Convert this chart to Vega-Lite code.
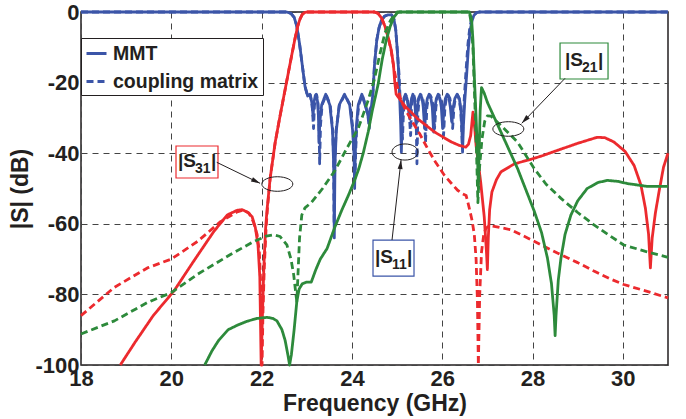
{
"$schema":"https://vega.github.io/schema/vega-lite/v6.json",
"width":587,"height":353,
"autosize":{"type":"none"},
"padding":{"left":81,"top":12,"right":18,"bottom":54},
"config":{"font":"Liberation Sans","view":{"stroke":"#231f20","strokeWidth":1.5}},
"encoding":{
"x":{"field":"f","type":"quantitative","scale":{"domain":[18,31],"nice":false,"zero":false},
"axis":{"values":[18,20,22,24,26,28,30],"title":"Frequency (GHz)","grid":true,"gridDash":[6,5],"gridColor":"#444","gridWidth":1,"domain":false,"ticks":false,"labelFont":"Liberation Sans","labelFontWeight":"bold","labelFontSize":22,"labelColor":"#231f20","labelPadding":3,"labelFlush":false,"labelOverlap":false,"titleFont":"Liberation Sans","titleFontWeight":"bold","titleFontSize":23,"titleColor":"#231f20","titlePadding":3}},
"y":{"field":"d","type":"quantitative","scale":{"domain":[-100,0],"nice":false,"zero":false},
"axis":{"values":[-100,-80,-60,-40,-20,0],"labelExpr":"datum.value == 0 ? '0' : '-' + abs(datum.value)","title":"|S| (dB)","grid":true,"gridDash":[6,5],"gridColor":"#444","gridWidth":1,"domain":false,"ticks":false,"labelFont":"Liberation Sans","labelFontWeight":"bold","labelFontSize":22,"labelColor":"#231f20","labelPadding":2,"labelFlush":false,"labelOverlap":false,"titleFont":"Liberation Sans","titleFontWeight":"bold","titleFontSize":23,"titleColor":"#231f20","titlePadding":2}}
},
"layer":[
{"data":{"values":[
{"p":"S11","m":"MMT","f":18,"d":0},{"p":"S11","m":"MMT","f":22.55,"d":0},{"p":"S11","m":"MMT","f":22.65,"d":-0.4},{"p":"S11","m":"MMT","f":22.72,"d":-1.5},{"p":"S11","m":"MMT","f":22.78,"d":-4},{"p":"S11","m":"MMT","f":22.84,"d":-9},{"p":"S11","m":"MMT","f":22.9,"d":-15},{"p":"S11","m":"MMT","f":22.96,"d":-21},{"p":"S11","m":"MMT","f":23.02,"d":-23.8},{"p":"S11","m":"MMT","f":23.07,"d":-23.3},{"p":"S11","m":"MMT","f":23.11,"d":-25.5},{"p":"S11","m":"MMT","f":23.14,"d":-29.4},{"p":"S11","m":"MMT","f":23.16,"d":-25.5},{"p":"S11","m":"MMT","f":23.19,"d":-23.6},{"p":"S11","m":"MMT","f":23.21,"d":-23.3},{"p":"S11","m":"MMT","f":23.24,"d":-25.5},{"p":"S11","m":"MMT","f":23.26,"d":-30},{"p":"S11","m":"MMT","f":23.27,"d":-37},{"p":"S11","m":"MMT","f":23.29,"d":-31},{"p":"S11","m":"MMT","f":23.33,"d":-26.3},{"p":"S11","m":"MMT","f":23.42,"d":-23.3},{"p":"S11","m":"MMT","f":23.51,"d":-26.3},{"p":"S11","m":"MMT","f":23.57,"d":-33.5},{"p":"S11","m":"MMT","f":23.595,"d":-43},{"p":"S11","m":"MMT","f":23.61,"d":-64},{"p":"S11","m":"MMT","f":23.625,"d":-43},{"p":"S11","m":"MMT","f":23.655,"d":-33.5},{"p":"S11","m":"MMT","f":23.72,"d":-26.3},{"p":"S11","m":"MMT","f":23.835,"d":-23.3},{"p":"S11","m":"MMT","f":23.95,"d":-26.3},{"p":"S11","m":"MMT","f":24.015,"d":-33.5},{"p":"S11","m":"MMT","f":24.045,"d":-40},{"p":"S11","m":"MMT","f":24.06,"d":-50},{"p":"S11","m":"MMT","f":24.075,"d":-40},{"p":"S11","m":"MMT","f":24.095,"d":-33},{"p":"S11","m":"MMT","f":24.14,"d":-26.3},{"p":"S11","m":"MMT","f":24.22,"d":-23.3},{"p":"S11","m":"MMT","f":24.29,"d":-26.3},{"p":"S11","m":"MMT","f":24.34,"d":-28.5},{"p":"S11","m":"MMT","f":24.37,"d":-30.3},{"p":"S11","m":"MMT","f":24.4,"d":-27.5},{"p":"S11","m":"MMT","f":24.44,"d":-26.5},{"p":"S11","m":"MMT","f":24.47,"d":-22},{"p":"S11","m":"MMT","f":24.5,"d":-15},{"p":"S11","m":"MMT","f":24.55,"d":-8},{"p":"S11","m":"MMT","f":24.6,"d":-4.5},{"p":"S11","m":"MMT","f":24.65,"d":-2.5},{"p":"S11","m":"MMT","f":24.72,"d":-1.2},{"p":"S11","m":"MMT","f":24.8,"d":-0.8},{"p":"S11","m":"MMT","f":24.88,"d":-0.8},{"p":"S11","m":"MMT","f":24.93,"d":-2},{"p":"S11","m":"MMT","f":24.97,"d":-5},{"p":"S11","m":"MMT","f":25.0,"d":-10},{"p":"S11","m":"MMT","f":25.03,"d":-16},{"p":"S11","m":"MMT","f":25.06,"d":-25},{"p":"S11","m":"MMT","f":25.08,"d":-32},{"p":"S11","m":"MMT","f":25.095,"d":-39.7},{"p":"S11","m":"MMT","f":25.11,"d":-32},{"p":"S11","m":"MMT","f":25.13,"d":-26.5},{"p":"S11","m":"MMT","f":25.155,"d":-24.3},{"p":"S11","m":"MMT","f":25.185,"d":-23.3},{"p":"S11","m":"MMT","f":25.22,"d":-24.5},{"p":"S11","m":"MMT","f":25.25,"d":-27},{"p":"S11","m":"MMT","f":25.28,"d":-30.3},{"p":"S11","m":"MMT","f":25.3,"d":-27},{"p":"S11","m":"MMT","f":25.32,"d":-24.5},{"p":"S11","m":"MMT","f":25.35,"d":-23.3},{"p":"S11","m":"MMT","f":25.38,"d":-24.5},{"p":"S11","m":"MMT","f":25.4,"d":-27},{"p":"S11","m":"MMT","f":25.42,"d":-32},{"p":"S11","m":"MMT","f":25.45,"d":-27},{"p":"S11","m":"MMT","f":25.475,"d":-24.5},{"p":"S11","m":"MMT","f":25.515,"d":-23.3},{"p":"S11","m":"MMT","f":25.555,"d":-24.5},{"p":"S11","m":"MMT","f":25.58,"d":-27},{"p":"S11","m":"MMT","f":25.61,"d":-33},{"p":"S11","m":"MMT","f":25.64,"d":-27},{"p":"S11","m":"MMT","f":25.67,"d":-24.5},{"p":"S11","m":"MMT","f":25.71,"d":-23.3},{"p":"S11","m":"MMT","f":25.75,"d":-24.5},{"p":"S11","m":"MMT","f":25.78,"d":-27},{"p":"S11","m":"MMT","f":25.81,"d":-34},{"p":"S11","m":"MMT","f":25.84,"d":-27},{"p":"S11","m":"MMT","f":25.87,"d":-24.5},{"p":"S11","m":"MMT","f":25.91,"d":-23.3},{"p":"S11","m":"MMT","f":25.95,"d":-24.5},{"p":"S11","m":"MMT","f":25.98,"d":-27},{"p":"S11","m":"MMT","f":26.01,"d":-33},{"p":"S11","m":"MMT","f":26.04,"d":-27},{"p":"S11","m":"MMT","f":26.07,"d":-24.5},{"p":"S11","m":"MMT","f":26.11,"d":-23.3},{"p":"S11","m":"MMT","f":26.15,"d":-24.5},{"p":"S11","m":"MMT","f":26.18,"d":-27},{"p":"S11","m":"MMT","f":26.21,"d":-31},{"p":"S11","m":"MMT","f":26.245,"d":-27},{"p":"S11","m":"MMT","f":26.28,"d":-24.5},{"p":"S11","m":"MMT","f":26.33,"d":-23.3},{"p":"S11","m":"MMT","f":26.38,"d":-24.5},{"p":"S11","m":"MMT","f":26.415,"d":-28},{"p":"S11","m":"MMT","f":26.435,"d":-33},{"p":"S11","m":"MMT","f":26.45,"d":-39.7},{"p":"S11","m":"MMT","f":26.47,"d":-32},{"p":"S11","m":"MMT","f":26.5,"d":-25},{"p":"S11","m":"MMT","f":26.54,"d":-18},{"p":"S11","m":"MMT","f":26.58,"d":-10},{"p":"S11","m":"MMT","f":26.62,"d":-5},{"p":"S11","m":"MMT","f":26.66,"d":-2.5},{"p":"S11","m":"MMT","f":26.7,"d":-1},{"p":"S11","m":"MMT","f":26.76,"d":-0.2},{"p":"S11","m":"MMT","f":26.82,"d":0},{"p":"S11","m":"MMT","f":31,"d":0},

{"p":"S11","m":"coupling matrix","f":18,"d":0},{"p":"S11","m":"coupling matrix","f":22.55,"d":0},{"p":"S11","m":"coupling matrix","f":22.65,"d":-0.4},{"p":"S11","m":"coupling matrix","f":22.72,"d":-1.5},{"p":"S11","m":"coupling matrix","f":22.78,"d":-4},{"p":"S11","m":"coupling matrix","f":22.84,"d":-9},{"p":"S11","m":"coupling matrix","f":22.9,"d":-15},{"p":"S11","m":"coupling matrix","f":22.96,"d":-21},{"p":"S11","m":"coupling matrix","f":23.02,"d":-24},{"p":"S11","m":"coupling matrix","f":23.08,"d":-23.5},{"p":"S11","m":"coupling matrix","f":23.12,"d":-26.5},{"p":"S11","m":"coupling matrix","f":23.15,"d":-33},{"p":"S11","m":"coupling matrix","f":23.17,"d":-26.5},{"p":"S11","m":"coupling matrix","f":23.2,"d":-23.8},{"p":"S11","m":"coupling matrix","f":23.22,"d":-23.5},{"p":"S11","m":"coupling matrix","f":23.25,"d":-26},{"p":"S11","m":"coupling matrix","f":23.27,"d":-31},{"p":"S11","m":"coupling matrix","f":23.285,"d":-43},{"p":"S11","m":"coupling matrix","f":23.305,"d":-32},{"p":"S11","m":"coupling matrix","f":23.34,"d":-26.3},{"p":"S11","m":"coupling matrix","f":23.43,"d":-23.5},{"p":"S11","m":"coupling matrix","f":23.52,"d":-26.3},{"p":"S11","m":"coupling matrix","f":23.575,"d":-33.5},{"p":"S11","m":"coupling matrix","f":23.595,"d":-42},{"p":"S11","m":"coupling matrix","f":23.605,"d":-60},{"p":"S11","m":"coupling matrix","f":23.62,"d":-43},{"p":"S11","m":"coupling matrix","f":23.65,"d":-33.5},{"p":"S11","m":"coupling matrix","f":23.72,"d":-26.5},{"p":"S11","m":"coupling matrix","f":23.84,"d":-23.5},{"p":"S11","m":"coupling matrix","f":23.96,"d":-26.3},{"p":"S11","m":"coupling matrix","f":24.025,"d":-33.5},{"p":"S11","m":"coupling matrix","f":24.055,"d":-40},{"p":"S11","m":"coupling matrix","f":24.07,"d":-47},{"p":"S11","m":"coupling matrix","f":24.085,"d":-39},{"p":"S11","m":"coupling matrix","f":24.105,"d":-33},{"p":"S11","m":"coupling matrix","f":24.15,"d":-26.3},{"p":"S11","m":"coupling matrix","f":24.23,"d":-23.5},{"p":"S11","m":"coupling matrix","f":24.3,"d":-26.3},{"p":"S11","m":"coupling matrix","f":24.35,"d":-29},{"p":"S11","m":"coupling matrix","f":24.385,"d":-33},{"p":"S11","m":"coupling matrix","f":24.41,"d":-28},{"p":"S11","m":"coupling matrix","f":24.44,"d":-26.5},{"p":"S11","m":"coupling matrix","f":24.47,"d":-22},{"p":"S11","m":"coupling matrix","f":24.5,"d":-15},{"p":"S11","m":"coupling matrix","f":24.55,"d":-8},{"p":"S11","m":"coupling matrix","f":24.6,"d":-4.5},{"p":"S11","m":"coupling matrix","f":24.65,"d":-2.5},{"p":"S11","m":"coupling matrix","f":24.72,"d":-1.2},{"p":"S11","m":"coupling matrix","f":24.8,"d":-0.8},{"p":"S11","m":"coupling matrix","f":24.88,"d":-0.8},{"p":"S11","m":"coupling matrix","f":24.93,"d":-2},{"p":"S11","m":"coupling matrix","f":24.97,"d":-5},{"p":"S11","m":"coupling matrix","f":25.0,"d":-10},{"p":"S11","m":"coupling matrix","f":25.04,"d":-17},{"p":"S11","m":"coupling matrix","f":25.07,"d":-25},{"p":"S11","m":"coupling matrix","f":25.1,"d":-30},{"p":"S11","m":"coupling matrix","f":25.12,"d":-36},{"p":"S11","m":"coupling matrix","f":25.14,"d":-29},{"p":"S11","m":"coupling matrix","f":25.16,"d":-25},{"p":"S11","m":"coupling matrix","f":25.195,"d":-23.5},{"p":"S11","m":"coupling matrix","f":25.23,"d":-24.5},{"p":"S11","m":"coupling matrix","f":25.26,"d":-27},{"p":"S11","m":"coupling matrix","f":25.3,"d":-35},{"p":"S11","m":"coupling matrix","f":25.32,"d":-27},{"p":"S11","m":"coupling matrix","f":25.34,"d":-24.5},{"p":"S11","m":"coupling matrix","f":25.37,"d":-23.5},{"p":"S11","m":"coupling matrix","f":25.4,"d":-25},{"p":"S11","m":"coupling matrix","f":25.42,"d":-29},{"p":"S11","m":"coupling matrix","f":25.44,"d":-43},{"p":"S11","m":"coupling matrix","f":25.46,"d":-29},{"p":"S11","m":"coupling matrix","f":25.49,"d":-24.5},{"p":"S11","m":"coupling matrix","f":25.53,"d":-23.5},{"p":"S11","m":"coupling matrix","f":25.57,"d":-24.5},{"p":"S11","m":"coupling matrix","f":25.6,"d":-27},{"p":"S11","m":"coupling matrix","f":25.63,"d":-37},{"p":"S11","m":"coupling matrix","f":25.66,"d":-27},{"p":"S11","m":"coupling matrix","f":25.69,"d":-24.5},{"p":"S11","m":"coupling matrix","f":25.73,"d":-23.5},{"p":"S11","m":"coupling matrix","f":25.77,"d":-24.5},{"p":"S11","m":"coupling matrix","f":25.8,"d":-27},{"p":"S11","m":"coupling matrix","f":25.83,"d":-33},{"p":"S11","m":"coupling matrix","f":25.86,"d":-27},{"p":"S11","m":"coupling matrix","f":25.89,"d":-24.5},{"p":"S11","m":"coupling matrix","f":25.93,"d":-23.5},{"p":"S11","m":"coupling matrix","f":25.97,"d":-24.5},{"p":"S11","m":"coupling matrix","f":26.0,"d":-27},{"p":"S11","m":"coupling matrix","f":26.03,"d":-35},{"p":"S11","m":"coupling matrix","f":26.06,"d":-27},{"p":"S11","m":"coupling matrix","f":26.09,"d":-24.5},{"p":"S11","m":"coupling matrix","f":26.13,"d":-23.5},{"p":"S11","m":"coupling matrix","f":26.17,"d":-24.5},{"p":"S11","m":"coupling matrix","f":26.2,"d":-27},{"p":"S11","m":"coupling matrix","f":26.23,"d":-33},{"p":"S11","m":"coupling matrix","f":26.26,"d":-27},{"p":"S11","m":"coupling matrix","f":26.29,"d":-24.5},{"p":"S11","m":"coupling matrix","f":26.34,"d":-23.5},{"p":"S11","m":"coupling matrix","f":26.38,"d":-25},{"p":"S11","m":"coupling matrix","f":26.41,"d":-28},{"p":"S11","m":"coupling matrix","f":26.43,"d":-33},{"p":"S11","m":"coupling matrix","f":26.445,"d":-38},{"p":"S11","m":"coupling matrix","f":26.46,"d":-31},{"p":"S11","m":"coupling matrix","f":26.49,"d":-24},{"p":"S11","m":"coupling matrix","f":26.53,"d":-16},{"p":"S11","m":"coupling matrix","f":26.57,"d":-9},{"p":"S11","m":"coupling matrix","f":26.61,"d":-4.5},{"p":"S11","m":"coupling matrix","f":26.65,"d":-2},{"p":"S11","m":"coupling matrix","f":26.7,"d":-0.8},{"p":"S11","m":"coupling matrix","f":26.76,"d":-0.2},{"p":"S11","m":"coupling matrix","f":26.82,"d":0},{"p":"S11","m":"coupling matrix","f":31,"d":0},

{"p":"S31","m":"MMT","f":18.87,"d":-100},{"p":"S31","m":"MMT","f":19.2,"d":-93.5},{"p":"S31","m":"MMT","f":19.6,"d":-86},{"p":"S31","m":"MMT","f":20.06,"d":-79},{"p":"S31","m":"MMT","f":20.5,"d":-70.5},{"p":"S31","m":"MMT","f":20.94,"d":-62.2},{"p":"S31","m":"MMT","f":21.24,"d":-57.5},{"p":"S31","m":"MMT","f":21.45,"d":-56.2},{"p":"S31","m":"MMT","f":21.57,"d":-56},{"p":"S31","m":"MMT","f":21.7,"d":-56.8},{"p":"S31","m":"MMT","f":21.79,"d":-58},{"p":"S31","m":"MMT","f":21.86,"d":-61},{"p":"S31","m":"MMT","f":21.92,"d":-66},{"p":"S31","m":"MMT","f":21.96,"d":-75},{"p":"S31","m":"MMT","f":21.99,"d":-100},{"p":"S31","m":"MMT","f":22.02,"d":-85},{"p":"S31","m":"MMT","f":22.05,"d":-72},{"p":"S31","m":"MMT","f":22.09,"d":-61},{"p":"S31","m":"MMT","f":22.12,"d":-56},{"p":"S31","m":"MMT","f":22.19,"d":-47},{"p":"S31","m":"MMT","f":22.3,"d":-37},{"p":"S31","m":"MMT","f":22.4,"d":-30},{"p":"S31","m":"MMT","f":22.52,"d":-22},{"p":"S31","m":"MMT","f":22.64,"d":-14},{"p":"S31","m":"MMT","f":22.74,"d":-7.5},{"p":"S31","m":"MMT","f":22.8,"d":-4},{"p":"S31","m":"MMT","f":22.85,"d":-2},{"p":"S31","m":"MMT","f":22.9,"d":-0.7},{"p":"S31","m":"MMT","f":22.96,"d":-0.1},{"p":"S31","m":"MMT","f":23.0,"d":0},{"p":"S31","m":"MMT","f":24.5,"d":0},{"p":"S31","m":"MMT","f":24.58,"d":-0.4},{"p":"S31","m":"MMT","f":24.66,"d":-1.8},{"p":"S31","m":"MMT","f":24.73,"d":-4},{"p":"S31","m":"MMT","f":24.8,"d":-7},{"p":"S31","m":"MMT","f":24.87,"d":-10.7},{"p":"S31","m":"MMT","f":24.92,"d":-15},{"p":"S31","m":"MMT","f":24.95,"d":-20},{"p":"S31","m":"MMT","f":24.98,"d":-23.3},{"p":"S31","m":"MMT","f":25.02,"d":-24},{"p":"S31","m":"MMT","f":25.17,"d":-26.6},{"p":"S31","m":"MMT","f":25.46,"d":-30.3},{"p":"S31","m":"MMT","f":25.83,"d":-34},{"p":"S31","m":"MMT","f":26.2,"d":-36.8},{"p":"S31","m":"MMT","f":26.38,"d":-37.8},{"p":"S31","m":"MMT","f":26.52,"d":-38.3},{"p":"S31","m":"MMT","f":26.58,"d":-37.5},{"p":"S31","m":"MMT","f":26.63,"d":-35},{"p":"S31","m":"MMT","f":26.68,"d":-28.4},{"p":"S31","m":"MMT","f":26.72,"d":-33},{"p":"S31","m":"MMT","f":26.75,"d":-37.8},{"p":"S31","m":"MMT","f":26.85,"d":-48},{"p":"S31","m":"MMT","f":26.93,"d":-58},{"p":"S31","m":"MMT","f":26.98,"d":-68},{"p":"S31","m":"MMT","f":27.0,"d":-73},{"p":"S31","m":"MMT","f":27.02,"d":-64},{"p":"S31","m":"MMT","f":27.05,"d":-56},{"p":"S31","m":"MMT","f":27.1,"d":-51},{"p":"S31","m":"MMT","f":27.2,"d":-47.5},{"p":"S31","m":"MMT","f":27.3,"d":-45.3},{"p":"S31","m":"MMT","f":27.6,"d":-43},{"p":"S31","m":"MMT","f":27.89,"d":-42},{"p":"S31","m":"MMT","f":28.2,"d":-40.8},{"p":"S31","m":"MMT","f":28.55,"d":-39.2},{"p":"S31","m":"MMT","f":29.0,"d":-37.2},{"p":"S31","m":"MMT","f":29.43,"d":-35.5},{"p":"S31","m":"MMT","f":29.6,"d":-35.6},{"p":"S31","m":"MMT","f":29.8,"d":-36.8},{"p":"S31","m":"MMT","f":30.05,"d":-39.5},{"p":"S31","m":"MMT","f":30.25,"d":-43.5},{"p":"S31","m":"MMT","f":30.4,"d":-49},{"p":"S31","m":"MMT","f":30.5,"d":-55.6},{"p":"S31","m":"MMT","f":30.57,"d":-63},{"p":"S31","m":"MMT","f":30.61,"d":-72.5},{"p":"S31","m":"MMT","f":30.65,"d":-64},{"p":"S31","m":"MMT","f":30.72,"d":-57},{"p":"S31","m":"MMT","f":30.8,"d":-51},{"p":"S31","m":"MMT","f":30.9,"d":-44},{"p":"S31","m":"MMT","f":31,"d":-40},

{"p":"S31","m":"coupling matrix","f":18,"d":-86},{"p":"S31","m":"coupling matrix","f":18.74,"d":-78},{"p":"S31","m":"coupling matrix","f":19.47,"d":-72.5},{"p":"S31","m":"coupling matrix","f":20.0,"d":-70},{"p":"S31","m":"coupling matrix","f":20.58,"d":-65},{"p":"S31","m":"coupling matrix","f":21.09,"d":-59.4},{"p":"S31","m":"coupling matrix","f":21.46,"d":-56.6},{"p":"S31","m":"coupling matrix","f":21.6,"d":-56.1},{"p":"S31","m":"coupling matrix","f":21.72,"d":-57},{"p":"S31","m":"coupling matrix","f":21.82,"d":-59.5},{"p":"S31","m":"coupling matrix","f":21.9,"d":-63},{"p":"S31","m":"coupling matrix","f":21.95,"d":-68},{"p":"S31","m":"coupling matrix","f":21.99,"d":-80},{"p":"S31","m":"coupling matrix","f":22.01,"d":-100},{"p":"S31","m":"coupling matrix","f":22.03,"d":-85},{"p":"S31","m":"coupling matrix","f":22.06,"d":-72},{"p":"S31","m":"coupling matrix","f":22.1,"d":-61},{"p":"S31","m":"coupling matrix","f":22.13,"d":-55.5},{"p":"S31","m":"coupling matrix","f":22.19,"d":-47},{"p":"S31","m":"coupling matrix","f":22.3,"d":-37},{"p":"S31","m":"coupling matrix","f":22.4,"d":-30},{"p":"S31","m":"coupling matrix","f":22.52,"d":-22},{"p":"S31","m":"coupling matrix","f":22.64,"d":-14},{"p":"S31","m":"coupling matrix","f":22.74,"d":-7.5},{"p":"S31","m":"coupling matrix","f":22.8,"d":-4},{"p":"S31","m":"coupling matrix","f":22.85,"d":-2},{"p":"S31","m":"coupling matrix","f":22.9,"d":-0.7},{"p":"S31","m":"coupling matrix","f":22.96,"d":-0.1},{"p":"S31","m":"coupling matrix","f":23.0,"d":0},{"p":"S31","m":"coupling matrix","f":24.5,"d":0},{"p":"S31","m":"coupling matrix","f":24.58,"d":-0.4},{"p":"S31","m":"coupling matrix","f":24.66,"d":-1.8},{"p":"S31","m":"coupling matrix","f":24.73,"d":-4},{"p":"S31","m":"coupling matrix","f":24.8,"d":-7},{"p":"S31","m":"coupling matrix","f":24.87,"d":-11},{"p":"S31","m":"coupling matrix","f":24.93,"d":-16},{"p":"S31","m":"coupling matrix","f":25.02,"d":-22},{"p":"S31","m":"coupling matrix","f":25.1,"d":-25.5},{"p":"S31","m":"coupling matrix","f":25.2,"d":-28},{"p":"S31","m":"coupling matrix","f":25.31,"d":-30.5},{"p":"S31","m":"coupling matrix","f":25.5,"d":-34.5},{"p":"S31","m":"coupling matrix","f":25.68,"d":-38.8},{"p":"S31","m":"coupling matrix","f":25.85,"d":-42.5},{"p":"S31","m":"coupling matrix","f":26.05,"d":-46.3},{"p":"S31","m":"coupling matrix","f":26.2,"d":-48.5},{"p":"S31","m":"coupling matrix","f":26.34,"d":-50.5},{"p":"S31","m":"coupling matrix","f":26.45,"d":-51.5},{"p":"S31","m":"coupling matrix","f":26.53,"d":-52},{"p":"S31","m":"coupling matrix","f":26.6,"d":-55.6},{"p":"S31","m":"coupling matrix","f":26.66,"d":-59},{"p":"S31","m":"coupling matrix","f":26.71,"d":-63},{"p":"S31","m":"coupling matrix","f":26.75,"d":-70},{"p":"S31","m":"coupling matrix","f":26.78,"d":-82},{"p":"S31","m":"coupling matrix","f":26.8,"d":-100},{"p":"S31","m":"coupling matrix","f":26.83,"d":-80},{"p":"S31","m":"coupling matrix","f":26.87,"d":-68},{"p":"S31","m":"coupling matrix","f":26.92,"d":-63},{"p":"S31","m":"coupling matrix","f":26.97,"d":-61.2},{"p":"S31","m":"coupling matrix","f":27.05,"d":-60.5},{"p":"S31","m":"coupling matrix","f":27.15,"d":-60.7},{"p":"S31","m":"coupling matrix","f":27.52,"d":-61.7},{"p":"S31","m":"coupling matrix","f":27.89,"d":-64},{"p":"S31","m":"coupling matrix","f":28.2,"d":-66},{"p":"S31","m":"coupling matrix","f":28.55,"d":-68.3},{"p":"S31","m":"coupling matrix","f":29.0,"d":-71},{"p":"S31","m":"coupling matrix","f":29.36,"d":-73.4},{"p":"S31","m":"coupling matrix","f":29.7,"d":-75.5},{"p":"S31","m":"coupling matrix","f":30.02,"d":-77.2},{"p":"S31","m":"coupling matrix","f":30.5,"d":-79},{"p":"S31","m":"coupling matrix","f":31,"d":-81},

{"p":"S21","m":"MMT","f":20.74,"d":-100},{"p":"S21","m":"MMT","f":20.9,"d":-96},{"p":"S21","m":"MMT","f":21.05,"d":-93},{"p":"S21","m":"MMT","f":21.26,"d":-90},{"p":"S21","m":"MMT","f":21.45,"d":-88.8},{"p":"S21","m":"MMT","f":21.68,"d":-87.6},{"p":"S21","m":"MMT","f":21.9,"d":-86.8},{"p":"S21","m":"MMT","f":22.12,"d":-86.5},{"p":"S21","m":"MMT","f":22.25,"d":-86.8},{"p":"S21","m":"MMT","f":22.34,"d":-87.5},{"p":"S21","m":"MMT","f":22.45,"d":-90},{"p":"S21","m":"MMT","f":22.52,"d":-93},{"p":"S21","m":"MMT","f":22.58,"d":-97},{"p":"S21","m":"MMT","f":22.62,"d":-100},{"p":"S21","m":"MMT","f":22.66,"d":-97},{"p":"S21","m":"MMT","f":22.72,"d":-90},{"p":"S21","m":"MMT","f":22.78,"d":-82},{"p":"S21","m":"MMT","f":22.83,"d":-78.5},{"p":"S21","m":"MMT","f":22.9,"d":-77},{"p":"S21","m":"MMT","f":23.0,"d":-76.5},{"p":"S21","m":"MMT","f":23.1,"d":-76.5},{"p":"S21","m":"MMT","f":23.2,"d":-73},{"p":"S21","m":"MMT","f":23.3,"d":-70},{"p":"S21","m":"MMT","f":23.45,"d":-67},{"p":"S21","m":"MMT","f":23.62,"d":-61},{"p":"S21","m":"MMT","f":23.78,"d":-56},{"p":"S21","m":"MMT","f":23.92,"d":-52},{"p":"S21","m":"MMT","f":24.05,"d":-48},{"p":"S21","m":"MMT","f":24.15,"d":-44.5},{"p":"S21","m":"MMT","f":24.25,"d":-40},{"p":"S21","m":"MMT","f":24.36,"d":-34},{"p":"S21","m":"MMT","f":24.45,"d":-28},{"p":"S21","m":"MMT","f":24.58,"d":-20.5},{"p":"S21","m":"MMT","f":24.67,"d":-13.5},{"p":"S21","m":"MMT","f":24.76,"d":-8},{"p":"S21","m":"MMT","f":24.85,"d":-4},{"p":"S21","m":"MMT","f":24.93,"d":-1.5},{"p":"S21","m":"MMT","f":25.0,"d":-0.3},{"p":"S21","m":"MMT","f":25.05,"d":0},{"p":"S21","m":"MMT","f":26.6,"d":0},{"p":"S21","m":"MMT","f":26.65,"d":-2},{"p":"S21","m":"MMT","f":26.68,"d":-8},{"p":"S21","m":"MMT","f":26.71,"d":-18},{"p":"S21","m":"MMT","f":26.75,"d":-30},{"p":"S21","m":"MMT","f":26.78,"d":-40},{"p":"S21","m":"MMT","f":26.8,"d":-50},{"p":"S21","m":"MMT","f":26.82,"d":-38},{"p":"S21","m":"MMT","f":26.84,"d":-28},{"p":"S21","m":"MMT","f":26.87,"d":-21.4},{"p":"S21","m":"MMT","f":26.93,"d":-23},{"p":"S21","m":"MMT","f":27.0,"d":-25.6},{"p":"S21","m":"MMT","f":27.3,"d":-34},{"p":"S21","m":"MMT","f":27.67,"d":-44.4},{"p":"S21","m":"MMT","f":28.04,"d":-56.5},{"p":"S21","m":"MMT","f":28.2,"d":-62.5},{"p":"S21","m":"MMT","f":28.33,"d":-69.7},{"p":"S21","m":"MMT","f":28.42,"d":-77},{"p":"S21","m":"MMT","f":28.48,"d":-86},{"p":"S21","m":"MMT","f":28.5,"d":-91.7},{"p":"S21","m":"MMT","f":28.52,"d":-86},{"p":"S21","m":"MMT","f":28.57,"d":-76},{"p":"S21","m":"MMT","f":28.63,"d":-69.7},{"p":"S21","m":"MMT","f":28.72,"d":-63},{"p":"S21","m":"MMT","f":28.85,"d":-57.5},{"p":"S21","m":"MMT","f":29.0,"d":-53.5},{"p":"S21","m":"MMT","f":29.21,"d":-50},{"p":"S21","m":"MMT","f":29.45,"d":-48.3},{"p":"S21","m":"MMT","f":29.66,"d":-47.7},{"p":"S21","m":"MMT","f":29.9,"d":-48},{"p":"S21","m":"MMT","f":30.1,"d":-48.6},{"p":"S21","m":"MMT","f":30.54,"d":-49.4},{"p":"S21","m":"MMT","f":31,"d":-49.4},

{"p":"S21","m":"coupling matrix","f":18,"d":-91.2},{"p":"S21","m":"coupling matrix","f":18.74,"d":-87.5},{"p":"S21","m":"coupling matrix","f":19.47,"d":-82.3},{"p":"S21","m":"coupling matrix","f":20.0,"d":-79.5},{"p":"S21","m":"coupling matrix","f":20.58,"d":-74.3},{"p":"S21","m":"coupling matrix","f":21.31,"d":-68.7},{"p":"S21","m":"coupling matrix","f":21.83,"d":-65},{"p":"S21","m":"coupling matrix","f":22.1,"d":-63.5},{"p":"S21","m":"coupling matrix","f":22.27,"d":-63.1},{"p":"S21","m":"coupling matrix","f":22.41,"d":-63.6},{"p":"S21","m":"coupling matrix","f":22.56,"d":-66},{"p":"S21","m":"coupling matrix","f":22.65,"d":-70},{"p":"S21","m":"coupling matrix","f":22.71,"d":-74.4},{"p":"S21","m":"coupling matrix","f":22.76,"d":-80},{"p":"S21","m":"coupling matrix","f":22.78,"d":-82},{"p":"S21","m":"coupling matrix","f":22.8,"d":-76},{"p":"S21","m":"coupling matrix","f":22.84,"d":-64},{"p":"S21","m":"coupling matrix","f":22.89,"d":-57.5},{"p":"S21","m":"coupling matrix","f":22.96,"d":-55.5},{"p":"S21","m":"coupling matrix","f":23.1,"d":-54},{"p":"S21","m":"coupling matrix","f":23.35,"d":-50},{"p":"S21","m":"coupling matrix","f":23.62,"d":-45},{"p":"S21","m":"coupling matrix","f":23.83,"d":-40},{"p":"S21","m":"coupling matrix","f":24.0,"d":-36},{"p":"S21","m":"coupling matrix","f":24.14,"d":-33},{"p":"S21","m":"coupling matrix","f":24.25,"d":-29},{"p":"S21","m":"coupling matrix","f":24.36,"d":-25},{"p":"S21","m":"coupling matrix","f":24.5,"d":-19},{"p":"S21","m":"coupling matrix","f":24.6,"d":-13},{"p":"S21","m":"coupling matrix","f":24.73,"d":-6},{"p":"S21","m":"coupling matrix","f":24.85,"d":-2.5},{"p":"S21","m":"coupling matrix","f":24.93,"d":-1},{"p":"S21","m":"coupling matrix","f":25.0,"d":0},{"p":"S21","m":"coupling matrix","f":26.6,"d":0},{"p":"S21","m":"coupling matrix","f":26.64,"d":-3},{"p":"S21","m":"coupling matrix","f":26.68,"d":-10},{"p":"S21","m":"coupling matrix","f":26.72,"d":-25},{"p":"S21","m":"coupling matrix","f":26.76,"d":-40},{"p":"S21","m":"coupling matrix","f":26.79,"d":-54},{"p":"S21","m":"coupling matrix","f":26.82,"d":-45},{"p":"S21","m":"coupling matrix","f":26.88,"d":-36},{"p":"S21","m":"coupling matrix","f":26.94,"d":-31},{"p":"S21","m":"coupling matrix","f":27.0,"d":-29.4},{"p":"S21","m":"coupling matrix","f":27.08,"d":-29.5},{"p":"S21","m":"coupling matrix","f":27.15,"d":-30.3},{"p":"S21","m":"coupling matrix","f":27.4,"d":-33.4},{"p":"S21","m":"coupling matrix","f":27.67,"d":-36.9},{"p":"S21","m":"coupling matrix","f":28.04,"d":-44.4},{"p":"S21","m":"coupling matrix","f":28.3,"d":-48.8},{"p":"S21","m":"coupling matrix","f":28.63,"d":-52.8},{"p":"S21","m":"coupling matrix","f":29.0,"d":-56.8},{"p":"S21","m":"coupling matrix","f":29.36,"d":-60.3},{"p":"S21","m":"coupling matrix","f":29.7,"d":-63.3},{"p":"S21","m":"coupling matrix","f":30.02,"d":-66},{"p":"S21","m":"coupling matrix","f":30.5,"d":-67.8},{"p":"S21","m":"coupling matrix","f":31,"d":-69.5}
]},
"mark":{"type":"line","strokeWidth":2.8,"strokeJoin":"round"},
"encoding":{
"color":{"field":"p","type":"nominal","scale":{"domain":["S11","S21","S31"],"range":["#3b55a8","#2d8a3b","#ec2a2e"]},"legend":null},
"strokeDash":{"field":"m","type":"nominal","scale":{"domain":["MMT","coupling matrix"],"range":[[1,0],[7,4]]},
"legend":{"orient":"none","legendX":0,"legendY":26,"title":null,"strokeColor":"#231f20","fillColor":"white","padding":4,"rowPadding":7,"symbolType":"stroke","symbolSize":400,"symbolStrokeWidth":3,"symbolStrokeColor":"#3b55a8","labelFont":"Liberation Sans","labelFontWeight":"bold","labelFontSize":19.5,"labelColor":"#231f20","labelOffset":5}}
}},
{"data":{"values":[
{"p":"S31","f":20.104,"f2":21.034,"d":-37.96,"d2":-47.03},
{"p":"S11","f":24.467,"f2":25.375,"d":-64.6,"d2":-74.8},
{"p":"S21","f":28.609,"f2":29.672,"d":-8.78,"d2":-18.98}
]},
"mark":{"type":"rect","filled":false,"strokeWidth":1.2},
"encoding":{"x2":{"field":"f2"},"y2":{"field":"d2"},"color":{"field":"p","type":"nominal","legend":null}}},
{"data":{"values":[
{"t":"|S","f":20.148,"d":-43.82},{"t":"|","f":20.879,"d":-43.82},
{"t":"|S","f":24.512,"d":-71.02},{"t":"|","f":25.22,"d":-71.02},
{"t":"|S","f":28.72,"d":-15.21},{"t":"|","f":29.451,"d":-15.21}
]},
"mark":{"type":"text","font":"Liberation Sans","fontWeight":"bold","fontSize":19,"align":"left","baseline":"alphabetic","color":"#231f20"},
"encoding":{"text":{"field":"t"}}},
{"data":{"values":[
{"t":"31","f":20.525,"d":-45.52},
{"t":"11","f":24.888,"d":-72.72},
{"t":"21","f":29.097,"d":-16.91}
]},
"mark":{"type":"text","font":"Liberation Sans","fontWeight":"bold","fontSize":14,"align":"left","baseline":"alphabetic","color":"#231f20"},
"encoding":{"text":{"field":"t"}}},
{"data":{"values":[
{"f":21.006,"d":-42.58,"f2":21.965,"d2":-48.53},
{"f":24.888,"d":-64.59,"f2":25.088,"d2":-41.93},
{"f":28.72,"d":-18.78,"f2":27.761,"d2":-31.53}
]},
"mark":{"type":"rule","color":"#231f20","strokeWidth":1},
"encoding":{"x2":{"field":"f2"},"y2":{"field":"d2"}}},
{"data":{"values":[{"f":21.965,"d":-48.53}]},
"mark":{"type":"point","shape":"M0,0L-2,-0.55L-2,0.55Z","size":81,"angle":26,"filled":true,"color":"#231f20","opacity":1}},
{"data":{"values":[{"f":25.088,"d":-41.93}]},
"mark":{"type":"point","shape":"M0,0L-2,-0.55L-2,0.55Z","size":81,"angle":276,"filled":true,"color":"#231f20","opacity":1}},
{"data":{"values":[{"f":27.761,"d":-31.53}]},
"mark":{"type":"point","shape":"M0,0L-2,-0.55L-2,0.55Z","size":81,"angle":134,"filled":true,"color":"#231f20","opacity":1}},
{"data":{"values":[{"f":22.348,"d":-48.73},{"f":27.464,"d":-33.14}]},
"mark":{"type":"point","shape":"M-1,0A1,0.47,0,1,1,1,0A1,0.47,0,1,1,-1,0Z","size":961,"filled":false,"color":"#231f20","strokeWidth":1,"opacity":1}},
{"data":{"values":[{"f":25.176,"d":-39.66}]},
"mark":{"type":"point","shape":"M-1,0A1,0.62,0,1,1,1,0A1,0.62,0,1,1,-1,0Z","size":676,"filled":false,"color":"#231f20","strokeWidth":1,"opacity":1}}
]
}
